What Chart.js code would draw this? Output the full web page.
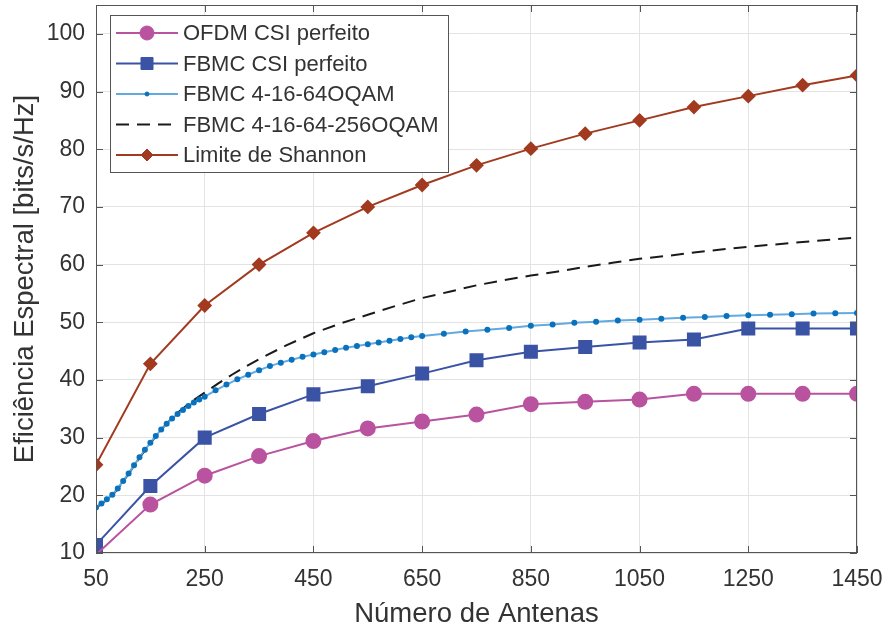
<!DOCTYPE html>
<html>
<head>
<meta charset="utf-8">
<script src="https://cdn.jsdelivr.net/npm/chart.js@4/dist/chart.umd.min.js"></script>
<style>
  html, body { margin: 0; padding: 0; background: #fff; }
  #wrap { width: 887px; height: 632px; }
</style>
</head>
<body>
<div id="wrap"><canvas id="effChart" width="887" height="632"></canvas></div>
<script>
// antenna counts for the sampled curves
const antennas = [50, 150, 250, 350, 450, 550, 650, 750, 850, 950, 1050, 1150, 1250, 1350, 1450];
const ofdmCsi = [9.7, 18.4, 23.4, 26.8, 29.4, 31.6, 32.8, 34.0, 35.8, 36.2, 36.6, 37.6, 37.6, 37.6, 37.6];
const fbmcCsi = [11.4, 21.6, 30.0, 34.1, 37.5, 38.9, 41.1, 43.4, 44.9, 45.7, 46.5, 47.0, 48.9, 48.9, 48.9];
const shannon = [25.3, 42.8, 52.9, 60.0, 65.5, 70.0, 73.8, 77.2, 80.1, 82.7, 85.0, 87.3, 89.2, 91.1, 92.8];

// FBMC 4-16-64OQAM (dense curve)
const qam64X = [50, 60, 70, 80, 90, 100, 110, 120, 130, 140, 150, 160, 170, 180, 190, 200, 210, 220, 230, 240,
  250, 270, 290, 310, 330, 350, 370, 390, 410, 430, 450, 470, 490, 510, 530, 550, 570, 590, 610, 630,
  650, 690, 730, 770, 810, 850, 890, 930, 970, 1010, 1050, 1090, 1130, 1170, 1210, 1250, 1290, 1330, 1370, 1410, 1450];
const qam64Y = [17.9, 18.6, 19.3, 20.1, 21.2, 22.5, 23.8, 25.2, 26.6, 27.9, 29.1, 30.3, 31.4, 32.4, 33.3, 34.1, 34.8, 35.5, 36.1, 36.6,
  37.1, 38.2, 39.2, 40.1, 40.9, 41.7, 42.4, 43.0, 43.5, 44.0, 44.4, 44.8, 45.2, 45.6, 45.9, 46.2, 46.5, 46.8, 47.1, 47.4,
  47.6, 48.0, 48.4, 48.7, 49.0, 49.4, 49.6, 49.9, 50.1, 50.3, 50.45, 50.6, 50.8, 50.9, 51.1, 51.2, 51.3, 51.4, 51.5, 51.55, 51.6];

// FBMC 4-16-64-256OQAM (dashed curve)
const qam256X = [50, 60, 70, 80, 90, 100, 110, 120, 130, 140, 150, 160, 170, 180, 190, 200, 225, 250, 275, 300, 325, 350,
  400, 450, 500, 550, 600, 650, 700, 750, 800, 850, 900, 950, 1000, 1050, 1100, 1150, 1200, 1250, 1300, 1350, 1400, 1450];
const qam256Y = [17.8, 18.5, 19.2, 20.0, 21.1, 22.4, 23.7, 25.1, 26.5, 27.8, 29.0, 30.2, 31.4, 32.4, 33.4, 34.3, 36.2, 37.8, 39.4, 40.9, 42.3, 43.6,
  46.0, 48.1, 49.8, 51.3, 52.8, 54.2, 55.3, 56.4, 57.3, 58.1, 58.8, 59.6, 60.3, 61.0, 61.5, 62.1, 62.6, 63.1, 63.5, 63.9, 64.3, 64.7];

const xTicks = [50, 250, 450, 650, 850, 1050, 1250, 1450];
const yTicks = [10, 20, 30, 40, 50, 60, 70, 80, 90, 100];
const xMin = 50, xMax = 1450, yMin = 10, yMax = 105;

const toPts = (xs, ys) => xs.map((x, i) => ({x: x, y: ys[i]}));
const textColor = '#333333';
const fontFamily = '"Liberation Sans", Arial, sans-serif';

// hide markers whose centre falls outside the axes (MATLAB clips them)
const clipRadius = r => ctx => (ctx.raw && ctx.raw.y < yMin) ? 0 : r;

// axes box with inward ticks on all sides
const boxPlugin = {
    id: 'box',
    afterDatasetsDraw(chart) {
        const {ctx, chartArea: a, scales} = chart;
        ctx.save();
        ctx.strokeStyle = '#555555';
        ctx.lineWidth = 1;
        ctx.strokeRect(a.left + 0.5, a.top + 0.5, a.right - a.left - 1, a.bottom - a.top - 1);
        ctx.beginPath();
        xTicks.forEach(v => {
            const px = Math.round(scales.x.getPixelForValue(v)) + 0.5;
            ctx.moveTo(px, a.bottom); ctx.lineTo(px, a.bottom - 7);
            ctx.moveTo(px, a.top); ctx.lineTo(px, a.top + 7);
        });
        yTicks.forEach(v => {
            const py = Math.round(scales.y.getPixelForValue(v)) + 0.5;
            ctx.moveTo(a.left, py); ctx.lineTo(a.left + 7, py);
            ctx.moveTo(a.right, py); ctx.lineTo(a.right - 7, py);
        });
        ctx.stroke();
        ctx.restore();
    }
};

// MATLAB-like legend box in the upper left corner
const legendPlugin = {
    id: 'matLegend',
    afterDraw(chart) {
        const ctx = chart.ctx;
        const a = chart.chartArea;
        const bx = a.left + 14, by = a.top + 10, bw = 338, bh = 157;
        ctx.save();
        ctx.fillStyle = '#ffffff';
        ctx.fillRect(bx, by, bw, bh);
        ctx.strokeStyle = '#555555';
        ctx.lineWidth = 1;
        ctx.strokeRect(bx + 0.5, by + 0.5, bw, bh);
        chart.data.datasets.forEach((ds, i) => {
            const y = by + 18 + i * 30.5;
            const x0 = bx + 6, x1 = bx + 68, xm = (x0 + x1) / 2;
            ctx.save();
            ctx.strokeStyle = ds.borderColor;
            ctx.lineWidth = ds.borderWidth;
            ctx.setLineDash(ds.borderDash || []);
            ctx.beginPath();
            ctx.moveTo(x0, y); ctx.lineTo(x1, y);
            ctx.stroke();
            ctx.restore();
            if (ds.legendRadius > 0) {
                ctx.fillStyle = ds.pointBackgroundColor;
                ctx.strokeStyle = ds.pointBorderColor;
                ctx.lineWidth = 1;
                Chart.helpers.drawPoint(ctx, {
                    pointStyle: ds.pointStyle,
                    radius: ds.legendRadius,
                    rotation: 0,
                    borderWidth: 1
                }, xm, y);
            }
            ctx.fillStyle = textColor;
            ctx.font = '22px ' + fontFamily;
            ctx.textBaseline = 'middle';
            ctx.textAlign = 'left';
            ctx.fillText(ds.label, bx + 73, y + 1);
        });
        ctx.restore();
    }
};

const ctx = document.getElementById('effChart').getContext('2d');
new Chart(ctx, {
    type: 'line',
    data: {
        datasets: [{
            label: 'OFDM CSI perfeito',
            data: toPts(antennas, ofdmCsi),
            borderColor: '#b9539f',
            borderWidth: 2,
            pointStyle: 'circle',
            pointRadius: clipRadius(7),
            legendRadius: 7,
            pointBackgroundColor: '#b9539f',
            pointBorderColor: '#b9539f',
            order: 1
        }, {
            label: 'FBMC CSI perfeito',
            data: toPts(antennas, fbmcCsi),
            borderColor: '#3a53a4',
            borderWidth: 2,
            pointStyle: 'rect',
            pointRadius: clipRadius(8.5),
            legendRadius: 8.5,
            pointBackgroundColor: '#3a53a4',
            pointBorderColor: '#3a53a4',
            order: 2
        }, {
            label: 'FBMC 4-16-64OQAM',
            data: toPts(qam64X, qam64Y),
            borderColor: '#62aadf',
            borderWidth: 2,
            pointStyle: 'circle',
            pointRadius: 2,
            legendRadius: 2,
            pointBackgroundColor: '#0a72bd',
            pointBorderColor: '#0a72bd',
            order: 3
        }, {
            label: 'FBMC 4-16-64-256OQAM',
            data: toPts(qam256X, qam256Y),
            borderColor: '#1a1a1a',
            borderWidth: 2,
            borderDash: [13, 8],
            pointRadius: 0,
            legendRadius: 0,
            order: 4
        }, {
            label: 'Limite de Shannon',
            data: toPts(antennas, shannon),
            borderColor: '#a23a20',
            borderWidth: 2,
            pointStyle: 'rectRot',
            pointRadius: 6,
            legendRadius: 6,
            pointBackgroundColor: '#a23a20',
            pointBorderColor: '#a23a20',
            order: 0
        }]
    },
    options: {
        responsive: false,
        animation: false,
        layout: { autoPadding: false, padding: { left: 0, right: 30, top: 5, bottom: 0 } },
        elements: { line: { tension: 0 } },
        plugins: {
            legend: { display: false },
            tooltip: { enabled: false }
        },
        scales: {
            x: {
                type: 'linear',
                min: xMin,
                max: xMax,
                afterBuildTicks: s => { s.ticks = xTicks.map(v => ({value: v})); },
                afterFit: s => { s.height = 79; s.paddingLeft = 0; s.paddingRight = 0; },
                grid: { color: '#e3e3e3', drawTicks: false },
                border: { display: false },
                ticks: {
                    color: textColor,
                    padding: 13,
                    maxRotation: 0,
                    callback: v => String(v),
                    font: { size: 23, family: fontFamily }
                },
                title: {
                    display: true,
                    text: 'Número de Antenas',
                    color: textColor,
                    padding: { top: 0, bottom: 1 },
                    font: { size: 27.5, family: fontFamily }
                }
            },
            y: {
                min: yMin,
                max: yMax,
                afterBuildTicks: s => { s.ticks = yTicks.map(v => ({value: v})); },
                afterFit: s => { s.width = 96; s.paddingTop = 0; s.paddingBottom = 0; },
                grid: { color: '#e3e3e3', drawTicks: false },
                border: { display: false },
                ticks: {
                    color: textColor,
                    padding: 11,
                    callback: v => String(v),
                    font: { size: 23, family: fontFamily }
                },
                title: {
                    display: true,
                    text: 'Eficiência Espectral [bits/s/Hz]',
                    color: textColor,
                    padding: { top: 9, bottom: 0 },
                    font: { size: 27.5, family: fontFamily }
                }
            }
        }
    },
    plugins: [boxPlugin, legendPlugin]
});
</script>
</body>
</html>
